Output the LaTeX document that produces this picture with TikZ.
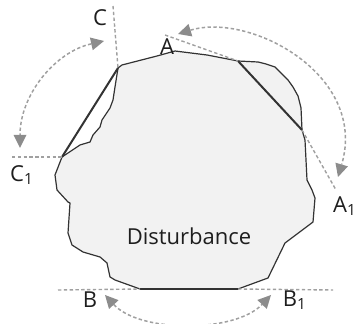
\documentclass[tikz,border=0pt]{standalone}
\usepackage{fontspec}
\setmainfont{Open Sans}
\usetikzlibrary{arrows.meta}
\definecolor{blobfill}{HTML}{F2F2F2}
\definecolor{blobline}{HTML}{333333}
\definecolor{guidegray}{HTML}{A0A0A0}
\definecolor{tipgray}{HTML}{8C8C8C}
\definecolor{labeltext}{HTML}{1E1E1E}

\begin{document}
\begin{tikzpicture}[
  x=0.5pt, y=-0.5pt,
  blob/.style={fill=blobfill, draw=blobline, line width=0.6pt, line join=round},
  chord/.style={draw=blobline, line width=1pt},
  guide/.style={draw=guidegray, line width=0.7pt, dash pattern=on 1.7pt off 1.2pt},
  swing/.style={
    draw=guidegray, line width=0.75pt, dash pattern=on 1.7pt off 1.2pt,
    {Triangle[length=6.5pt,width=6.5pt,color=tipgray,line width=0pt]}-{Triangle[length=6.5pt,width=6.5pt,color=tipgray,line width=0pt]}
  },
  lbl/.style={font=\fontsize{11pt}{13pt}\selectfont, text=labeltext, inner sep=0pt}
]
\useasboundingbox (0,0) rectangle (357,324);

% KEY POINTS
\coordinate (cTop) at (118,68);
\coordinate (cBot) at (62,157);
\coordinate (aTop) at (238,61);
\coordinate (aBot) at (302,130);
\coordinate (bLeft) at (140,289);
\coordinate (bRight) at (238,289);

% DISTURBANCE
\draw[blob] (cTop) -- (122,65) -- (157,56) -- (175,51) -- (207,55) -- (aTop)
  -- (258,62) -- (266,64) -- (275,67) -- (282,74) -- (288,80) -- (293,87)
  -- (298,96) -- (301,108) -- (aBot) -- (305,140) -- (307,180) -- (312,190)
  -- (315,198) -- (313,222) -- (285,243) -- (268,278) -- (bRight)
  -- (bLeft) -- (115,280) -- (110,277) -- (107,263) -- (100,257) -- (83,252)
  -- (72,245) -- (68,233) -- (70,203) -- (68,202) -- (57,190) -- (55,175)
  -- (cBot) -- (80,145) -- (90,142) -- (93,135) -- (100,127) -- (102,120)
  -- (110,108) -- (113,100) -- (115,87) -- cycle;
\node[lbl] (dist) at (189,236) {Disturbance};

% CHORDS
\draw[chord] (cBot) -- (cTop);
\draw[chord] (aTop) -- (aBot);
\draw[chord] (bLeft) -- (bRight);

% GUIDE LINES
\coordinate (cEnd) at (113,6);
\coordinate (c1End) at (12,157);
\coordinate (aEnd) at (165,35);
\coordinate (a1End) at (336,190);
\coordinate (bEnd) at (58,290);
\coordinate (b1End) at (333,290);
\draw[guide] (cEnd) -- (cTop);
\draw[guide] (c1End) -- (cBot);
\draw[guide] (aEnd) -- (aTop);
\draw[guide] (aBot) -- (a1End);
\draw[guide] (bEnd) -- (bLeft);
\draw[guide] (bRight) -- (b1End);

% ROTATION ARROWS
\coordinate (cArcA) at (104,41);
\coordinate (cArcB) at (20,148);
\coordinate (aArcA) at (178,34);
\coordinate (aArcB) at (338,177);
\coordinate (bArcA) at (105,295);
\coordinate (bArcB) at (271,295);
\draw[swing] (cArcA) .. controls (55,52) and (20,95) .. (cArcB);
\draw[swing] (aArcA) .. controls (250,12) and (368,75) .. (aArcB);
\draw[swing] (bArcA) .. controls (140,333) and (235,333) .. (bArcB);

% LABELS
\node[lbl] (labC) at (100,18) {C};
\node[lbl] (labC1) at (22,175) {C\textsubscript{1}};
\node[lbl] (labA) at (167,47) {A};
\node[lbl] (labA1) at (345,206) {A\textsubscript{1}};
\node[lbl] (labB) at (90,300) {B};
\node[lbl] (labB1) at (295,300) {B\textsubscript{1}};
\end{tikzpicture}
\end{document}
